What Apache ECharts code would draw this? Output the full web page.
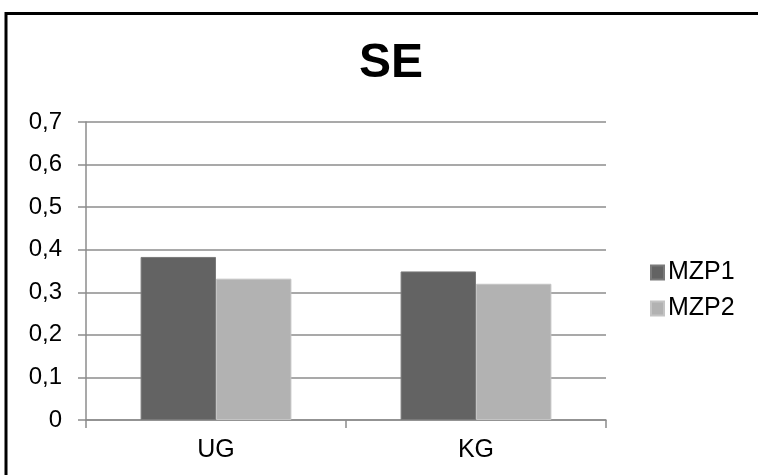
<!DOCTYPE html>
<html>
<head>
<meta charset="utf-8">
<script src="https://cdn.jsdelivr.net/npm/echarts@6/dist/echarts.min.js"></script>
<style>
html,body{margin:0;padding:0;background:#fff;}
#c{width:758px;height:475px;}
</style>
</head>
<body>
<div id="c"></div>
<script>
const categories = ['UG', 'KG'];
const seriesNames = ['MZP1', 'MZP2'];
const mzp1 = [0.383, 0.349];
const mzp2 = [0.332, 0.320];
const yTicks = [0, 0.1, 0.2, 0.3, 0.4, 0.5, 0.6, 0.7];
const yTickLabels = ['0', '0,1', '0,2', '0,3', '0,4', '0,5', '0,6', '0,7'];

const chart = echarts.init(document.getElementById('c'), null, {renderer: 'canvas'});
const font = 'Liberation Sans, Arial, sans-serif';
chart.setOption({
  animation: false,
  backgroundColor: '#fff',
  title: {
    text: 'SE',
    left: 386, top: 35, textAlign: 'center',
    textStyle: {fontFamily: font, fontSize: 48, fontWeight: 'bold', color: '#000'}
  },
  graphic: [{
    type: 'rect', shape: {x: 6, y: 13.5, width: 800, height: 520},
    style: {fill: 'none', stroke: '#000', lineWidth: 3}, z: 100
  }],
  legend: {
    orient: 'vertical', left: 650, top: 260, itemGap: 11, padding: 0,
    itemWidth: 13, itemHeight: 14, icon: 'rect',
    textStyle: {fontFamily: font, fontSize: 25, color: '#000', padding: [0,0,0,-1]},
    data: seriesNames
  },
  grid: {left: 86, right: 152, top: 122, bottom: 55, containLabel: false},
  xAxis: {
    type: 'category', data: categories,
    axisLine: {lineStyle: {color: '#8c8c8c', width: 1.5}},
    axisTick: {show: true, length: 8, lineStyle: {color: '#8c8c8c', width: 1.5}},
    axisLabel: {fontFamily: font, fontSize: 25, color: '#000', margin: 18}
  },
  yAxis: {
    type: 'value', min: 0, max: 0.7, interval: 0.1,
    axisLine: {show: true, lineStyle: {color: '#8c8c8c', width: 1.5}},
    axisTick: {show: true, length: 8, lineStyle: {color: '#8c8c8c', width: 1.5}},
    splitLine: {lineStyle: {color: '#8c8c8c', width: 1.5}},
    axisLabel: {
      fontFamily: font, fontSize: 24, color: '#000', margin: 24,
      formatter: v => { const i = yTicks.findIndex(x => Math.abs(x - v) < 1e-9); return i >= 0 ? yTickLabels[i] : String(v).replace('.', ','); }
    }
  },
  series: [
    {name: seriesNames[0], type: 'bar', data: mzp1, barGap: '0%', barCategoryGap: '42%',
     itemStyle: {color: '#636363', borderColor: '#7a7a7a', borderWidth: 1}},
    {name: seriesNames[1], type: 'bar', data: mzp2, barGap: '0%', barCategoryGap: '42%',
     itemStyle: {color: '#b2b2b2', borderColor: '#c4c4c4', borderWidth: 1}}
  ]
});
</script>
</body>
</html>
